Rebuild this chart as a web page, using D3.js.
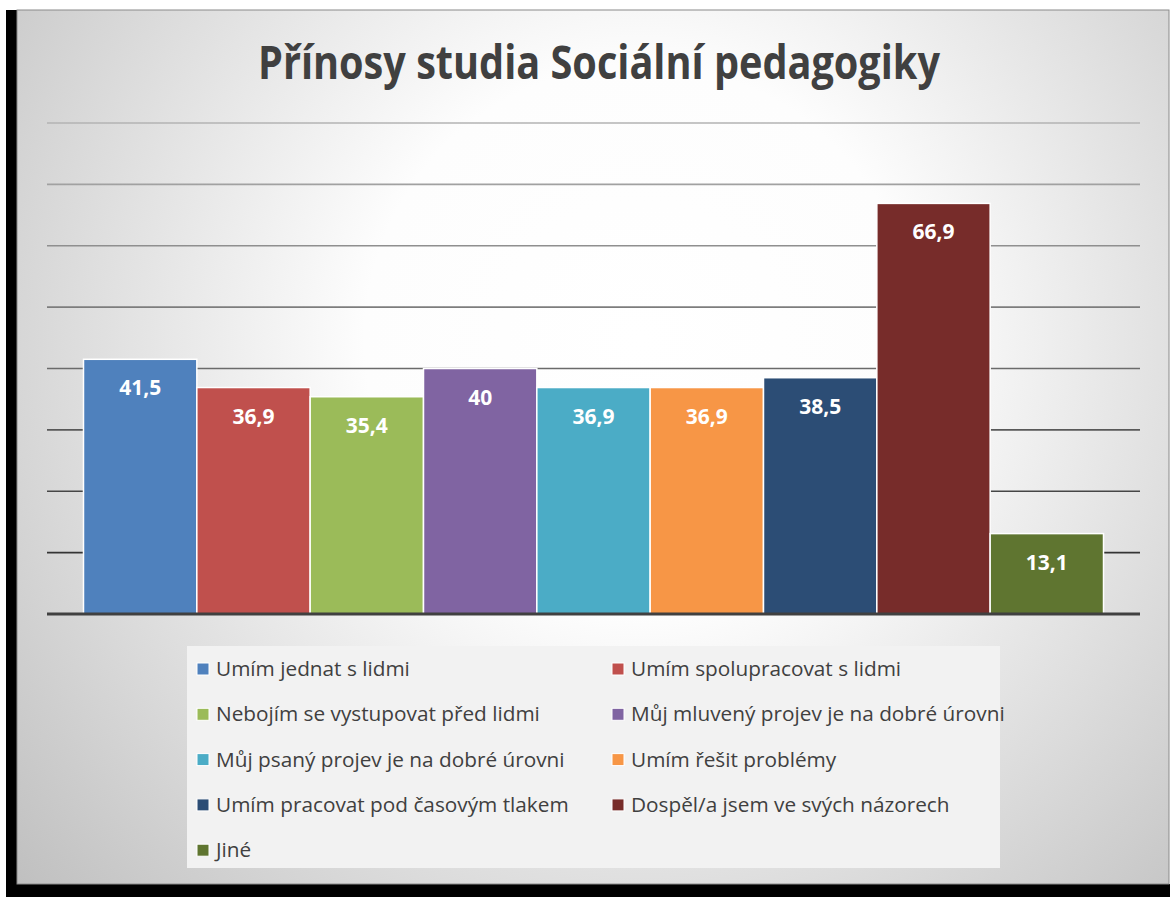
<!DOCTYPE html>
<html>
<head>
<meta charset="utf-8">
<script src="https://cdn.jsdelivr.net/npm/d3@7"></script>
<style>
  body { margin: 0; background: #fff; }
  text { font-family: "Open Sans", "Noto Sans", sans-serif; }
</style>
</head>
<body>
<div id="chart"></div>
<script>
// Chart data
const categories = [
  "Umím jednat s lidmi",
  "Umím spolupracovat s lidmi",
  "Nebojím se vystupovat před lidmi",
  "Můj mluvený projev je na dobré úrovni",
  "Můj psaný projev je na dobré úrovni",
  "Umím řešit problémy",
  "Umím pracovat pod časovým tlakem",
  "Dospěl/a jsem ve svých názorech",
  "Jiné"
];
const values = [41.5, 36.9, 35.4, 40, 36.9, 36.9, 38.5, 66.9, 13.1];
const colors = ["#4F81BD", "#C0504D", "#9BBB59", "#8064A2", "#4BACC6", "#F79646", "#2C4D75", "#772C2A", "#5F7530"];
const gridTicks = [10, 20, 30, 40, 50, 60, 70, 80];
const title = "Přínosy studia Sociální pedagogiky";

const width = 1170, height = 897;

const svg = d3.select("#chart")
  .append("svg")
  .attr("width", width)
  .attr("height", height);

const defs = svg.append("defs");

// Background radial gradient (white centre, grey corners)
const bg = defs.append("radialGradient")
  .attr("id", "bg")
  .attr("gradientUnits", "userSpaceOnUse")
  .attr("cx", 640).attr("cy", 340).attr("r", 860);
bg.append("stop").attr("offset", 0).attr("stop-color", "#ffffff");
bg.append("stop").attr("offset", 0.32).attr("stop-color", "#fdfdfd");
bg.append("stop").attr("offset", 1).attr("stop-color", "#bcbcbc");

// Gridlines get darker towards the bottom
const gridGrad = defs.append("linearGradient")
  .attr("id", "gridGrad")
  .attr("gradientUnits", "userSpaceOnUse")
  .attr("x1", 0).attr("x2", 0).attr("y1", 120).attr("y2", 614);
gridGrad.append("stop").attr("offset", 0).attr("stop-color", "#b4b4b4");
gridGrad.append("stop").attr("offset", 1).attr("stop-color", "#222222");

// Black frame strips (left / bottom)
svg.append("rect").attr("x", 6).attr("y", 10).attr("width", 11).attr("height", 887).attr("fill", "#000");
svg.append("rect").attr("x", 6).attr("y", 884).attr("width", 1164).attr("height", 13).attr("fill", "#000");

// Chart area
svg.append("rect")
  .attr("x", 17).attr("y", 10)
  .attr("width", 1152).attr("height", 874)
  .attr("fill", "url(#bg)")
  .attr("stroke", "#8a8a8a")
  .attr("stroke-width", 1);

// Title
svg.append("text")
  .attr("x", 599)
  .attr("y", 79)
  .attr("text-anchor", "middle")
  .attr("font-size", "47px")
  .attr("font-weight", "bold")
  .attr("fill", "#404040")
  .attr("textLength", 682)
  .attr("lengthAdjust", "spacingAndGlyphs")
  .text(title);

// Scales
const x = d3.scaleBand()
  .domain(categories)
  .range([83.5, 1103.5])
  .padding(0);

const y = d3.scaleLinear()
  .domain([0, 80])
  .range([614, 123]);

// Gridlines
svg.append("g")
  .selectAll("line")
  .data(gridTicks)
  .join("line")
  .attr("x1", 47).attr("x2", 1140)
  .attr("y1", d => y(d)).attr("y2", d => y(d))
  .attr("stroke", "url(#gridGrad)")
  .attr("stroke-width", 1.6);

// Bars
svg.append("g")
  .selectAll("rect")
  .data(values)
  .join("rect")
  .attr("x", (d, i) => x(categories[i]))
  .attr("y", d => y(d))
  .attr("width", x.bandwidth())
  .attr("height", d => y(0) - y(d))
  .attr("fill", (d, i) => colors[i])
  .attr("stroke", "#ffffff")
  .attr("stroke-width", 1.5);

// Baseline
svg.append("line")
  .attr("x1", 47).attr("x2", 1140)
  .attr("y1", y(0)).attr("y2", y(0))
  .attr("stroke", "#404040")
  .attr("stroke-width", 3);

// Value labels inside bars
svg.append("g")
  .selectAll("text")
  .data(values)
  .join("text")
  .attr("x", (d, i) => x(categories[i]) + x.bandwidth() / 2)
  .attr("y", d => y(d) + 36)
  .attr("text-anchor", "middle")
  .attr("font-size", "21px")
  .attr("font-weight", "bold")
  .attr("fill", "#ffffff")
  .text(d => String(d).replace(".", ","));

// Legend
const legend = svg.append("g");
legend.append("rect")
  .attr("x", 187).attr("y", 646)
  .attr("width", 813).attr("height", 222)
  .attr("fill", "#f2f2f2");

const colX = [197, 612];
const rowY = d3.range(5).map(r => 669 + r * 45.3);

const items = legend.selectAll("g.item")
  .data(categories)
  .join("g")
  .attr("class", "item")
  .attr("transform", (d, i) => `translate(${colX[i % 2]},${rowY[Math.floor(i / 2)]})`);

items.append("rect")
  .attr("x", 0).attr("y", -6)
  .attr("width", 12).attr("height", 12)
  .attr("fill", (d, i) => colors[i])
  .attr("stroke", "#ffffff")
  .attr("stroke-width", 1);

const labels = items.append("text")
  .attr("x", 19)
  .attr("y", 7)
  .attr("font-size", "20px")
  .attr("fill", "#404040")
  .text(d => d);

// Fit legend font so "Umím jednat s lidmi" spans ~194px like the original
const w0 = labels.node().getComputedTextLength();
labels.attr("font-size", (20 * 194 / w0).toFixed(2) + "px");
</script>
</body>
</html>
